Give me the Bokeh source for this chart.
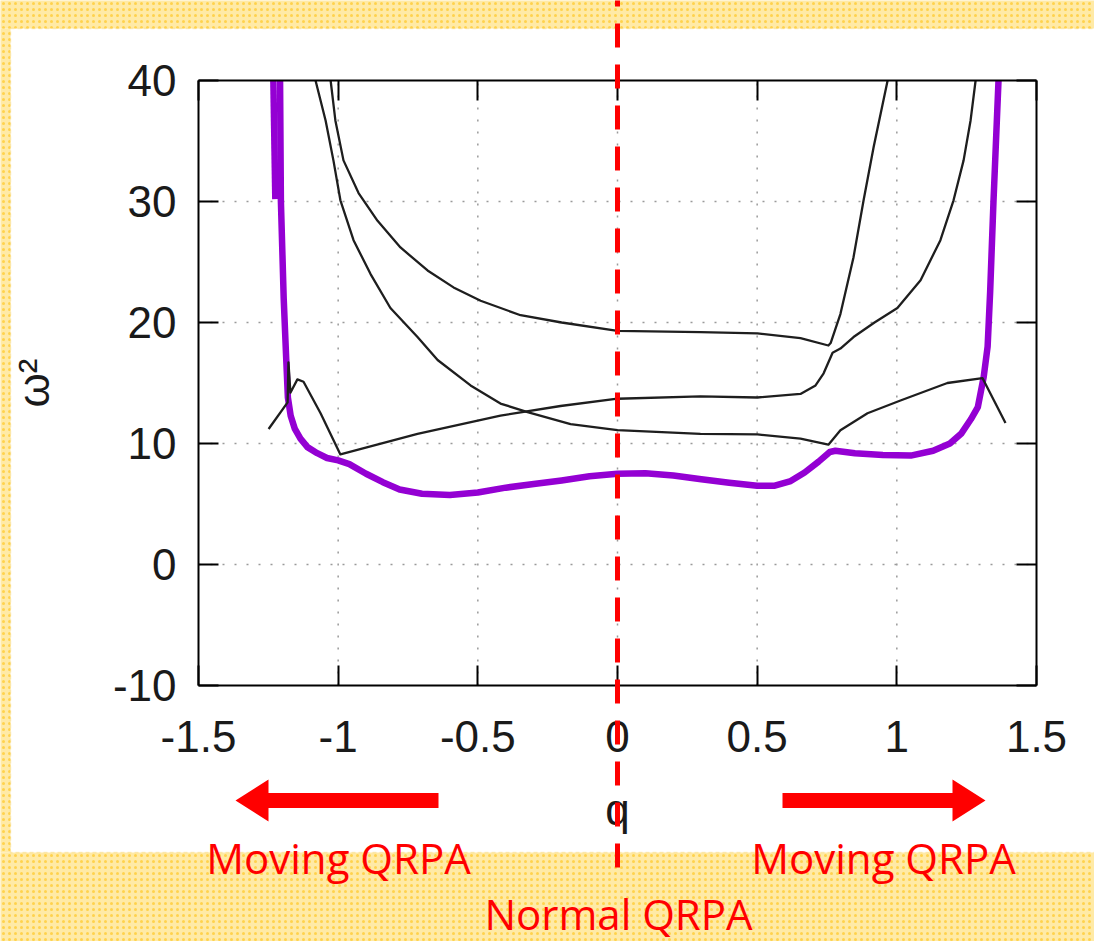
from bokeh.plotting import figure
from bokeh.models import (Range1d, LinearAxis, FixedTicker, PrintfTickFormatter, Label,
                          BoxAnnotation, PolyAnnotation)
from bokeh.embed import file_html
from bokeh.resources import INLINE

# ---------------- data ----------------
q_ticks = [-1.5, -1, -0.5, 0, 0.5, 1, 1.5]
w2_ticks = [-10, 0, 10, 20, 30, 40]

# lowest (purple) branch
purple_q = [-1.208, -1.205, -1.195, -1.186, -1.180, -1.170, -1.155, -1.135, -1.110, -1.075,
            -1.040, -1.000, -0.960, -0.900, -0.840, -0.780, -0.700, -0.600, -0.500, -0.400,
            -0.300, -0.200, -0.100, 0.000, 0.100, 0.200, 0.300, 0.400, 0.500, 0.560,
            0.620, 0.670, 0.720, 0.760, 0.780, 0.850, 0.950, 1.050, 1.130, 1.190,
            1.230, 1.265, 1.290, 1.311, 1.325, 1.334, 1.346, 1.364]
purple_w2 = [40, 30, 22, 17, 13.8, 12.3, 11.2, 10.4, 9.7, 9.2,
             8.8, 8.6, 8.3, 7.5, 6.8, 6.2, 5.85, 5.75, 5.95, 6.35,
             6.65, 6.95, 7.3, 7.5, 7.55, 7.35, 7.05, 6.75, 6.5, 6.5,
             6.9, 7.6, 8.5, 9.3, 9.4, 9.2, 9.05, 9.0, 9.4, 10.0,
             10.8, 12.0, 13.0, 15.5, 18.0, 22.5, 30, 40]
purple_stub_q = [-1.232, -1.225]
purple_stub_w2 = [40, 30.2]

# black branches
branch1_q = [-1.081, -1.045, -1.017, -0.992, -0.945, -0.884, -0.813, -0.716, -0.644, -0.526,
             -0.419, -0.322, -0.168, 0.0, 0.297, 0.501, 0.655, 0.755, 0.798, 0.895,
             1.013, 1.181, 1.307, 1.389]
branch1_w2 = [40, 36.7, 33.4, 30.1, 26.8, 24.0, 21.2, 18.8, 16.9, 14.8,
              13.3, 12.6, 11.6, 11.1, 10.8, 10.75, 10.4, 9.9, 11.1, 12.5,
              13.55, 15.0, 15.4, 11.7]

branch2_q = [-1.027, -1.010, -0.981, -0.927, -0.859, -0.777, -0.680, -0.587, -0.490, -0.347,
             -0.200, 0.0, 0.297, 0.501, 0.655, 0.755, 0.763, 0.798, 0.845, 0.881,
             0.917, 0.967]
branch2_w2 = [40, 36.7, 33.4, 30.7, 28.4, 26.2, 24.3, 22.9, 21.8, 20.6,
              20.0, 19.3, 19.2, 19.1, 18.7, 18.1, 18.3, 20.7, 25.4, 30.1,
              34.5, 40]

branch3_q = [-1.249, -1.181, -1.178, -1.171, -1.146, -1.124, -1.063, -0.992, -0.716, -0.419,
             -0.204, 0.0, 0.297, 0.501, 0.655, 0.709, 0.738, 0.770, 0.798, 0.845,
             0.920, 1.002, 1.085, 1.156, 1.203, 1.239, 1.264, 1.282]
branch3_w2 = [11.2, 13.4, 16.7, 14.2, 15.3, 15.1, 12.5, 9.1, 10.8, 12.3,
              13.1, 13.7, 13.9, 13.8, 14.1, 14.8, 15.8, 17.5, 17.85, 18.8,
              20.0, 21.2, 23.5, 26.8, 30.1, 33.4, 36.7, 40]

# ---------------- layout geometry (pixels) ----------------
W, H = 1094, 941
FL, FR, FT, FB = 198, 1036, 80, 685          # where the plot box sits in the picture
X0, X1 = -1.5, 1.5
Y0, Y1 = -10, 40


def qx(px):
    return X0 + (px - FL) * (X1 - X0) / (FR - FL)


def wy(py):
    return Y1 - (py - FT) * (Y1 - Y0) / (FB - FT)


# the frame fills the whole canvas; the axes are pinned to the plot box
p = figure(width=W, height=H, x_range=Range1d(qx(0), qx(W)), y_range=Range1d(wy(H), wy(0)),
           output_backend="svg", toolbar_location=None,
           x_axis_location=None, y_axis_location=None,
           min_border=0, min_border_left=0, min_border_right=0,
           min_border_top=0, min_border_bottom=0)
p.border_fill_color = "white"
p.background_fill_color = "white"
p.outline_line_color = None
p.xgrid.visible = False
p.ygrid.visible = False

TICK_FONT = "Liberation Sans"
common = dict(major_tick_in=20, major_tick_out=0, minor_tick_line_color=None,
              major_tick_line_width=2, major_tick_line_color="black",
              axis_line_color="black", axis_line_width=2)

bottom_ax = LinearAxis(fixed_location=Y0, bounds=(X0, X1), ticker=FixedTicker(ticks=q_ticks),
                       formatter=PrintfTickFormatter(format="%g"), axis_label="q", **common)
left_ax = LinearAxis(fixed_location=X0, bounds=(Y0, Y1), ticker=FixedTicker(ticks=w2_ticks),
                     formatter=PrintfTickFormatter(format="%g"), axis_label="ω²", **common)
for ax in (bottom_ax, left_ax):
    ax.major_label_text_font = TICK_FONT
    ax.major_label_text_font_size = "44px"
    ax.major_label_text_color = "#1a1a1a"
    ax.axis_label_text_font = TICK_FONT
    ax.axis_label_text_font_size = "44px"
    ax.axis_label_text_font_style = "normal"
    ax.axis_label_text_color = "#1a1a1a"
bottom_ax.major_label_standoff = 35
bottom_ax.axis_label_standoff = 30
left_ax.major_label_standoff = 22
left_ax.axis_label_standoff = 52

# mirror axes (ticks only) on the top and right of the plot box
top_ax = LinearAxis(fixed_location=Y1, bounds=(X0, X1), ticker=FixedTicker(ticks=q_ticks),
                    major_label_text_color=None, **common)
right_ax = LinearAxis(fixed_location=X1, bounds=(Y0, Y1), ticker=FixedTicker(ticks=w2_ticks),
                      major_label_text_color=None, **common)
p.add_layout(bottom_ax, "below")
p.add_layout(left_ax, "left")
p.add_layout(top_ax, "above")
p.add_layout(right_ax, "right")

# dotted grid lines at the ticks, inside the plot box
grid_kw = dict(line_color="#9a9a9a", line_dash="2 10", line_width=1.5)
p.segment(x0=q_ticks[1:-1], y0=[Y0] * (len(q_ticks) - 2), x1=q_ticks[1:-1],
          y1=[Y1] * (len(q_ticks) - 2), **grid_kw)
p.segment(x0=[X0] * (len(w2_ticks) - 2), y0=w2_ticks[1:-1], x1=[X1] * (len(w2_ticks) - 2),
          y1=w2_ticks[1:-1], **grid_kw)

# ---------------- curves ----------------
p.line(purple_q, purple_w2, line_color="#9400d3", line_width=6.5, line_join="round")
p.line(purple_stub_q, purple_stub_w2, line_color="#9400d3", line_width=6.5)
for bq, bw in ((branch1_q, branch1_w2), (branch2_q, branch2_w2), (branch3_q, branch3_w2)):
    p.line(bq, bw, line_color="#1e1e1e", line_width=2.3, line_join="round")

# ---------------- decorations around the plot ----------------
band_kw = dict(fill_color="#ffeaa6", fill_alpha=1.0, hatch_pattern="dot",
               hatch_color="#ffd24d", hatch_scale=6, hatch_weight=4,
               line_color=None, level="underlay")
p.add_layout(BoxAnnotation(left=qx(-5), right=qx(W + 5), top=wy(-5), bottom=wy(28), **band_kw))
p.add_layout(BoxAnnotation(left=qx(-5), right=qx(10), top=wy(28), bottom=wy(852), **band_kw))
p.add_layout(BoxAnnotation(left=qx(-5), right=qx(W + 5), top=wy(852), bottom=wy(H + 5), **band_kw))
p.add_layout(BoxAnnotation(left=qx(10), right=qx(W + 10), top=wy(28), bottom=wy(852),
                           fill_alpha=0, line_color="#f2c94c", line_dash="4 3",
                           line_width=1.5, level="underlay"))

# red dashed line at q = 0, over everything
red_line = p.line(x=[0, 0], y=[wy(0), wy(872)], line_color="red", line_width=5,
                  line_dash="24 17", line_dash_offset=18)
red_line.level = "overlay"

# red arrows
AY = 800
for tail, tip in ((438, 235), (782, 985)):
    base = tip + (33 if tip < tail else -33)
    xs = [tip, base, base, tail, tail, base, base]
    ys = [AY, AY - 21, AY - 7.5, AY - 7.5, AY + 7.5, AY + 7.5, AY + 21]
    p.add_layout(PolyAnnotation(xs=[qx(v) for v in xs], ys=[wy(v) for v in ys],
                                fill_color="red", fill_alpha=1, line_color=None))

lab_kw = dict(text_color="red", text_font="Open Sans", text_font_size="42px",
              text_align="center", text_baseline="middle")
p.add_layout(Label(x=qx(338), y=wy(857), text="Moving QRPA", **lab_kw))
p.add_layout(Label(x=qx(883), y=wy(857), text="Moving QRPA", **lab_kw))
p.add_layout(Label(x=qx(618), y=wy(913), text="Normal QRPA", **lab_kw))

open("out.html", "w").write(file_html(p, INLINE))
